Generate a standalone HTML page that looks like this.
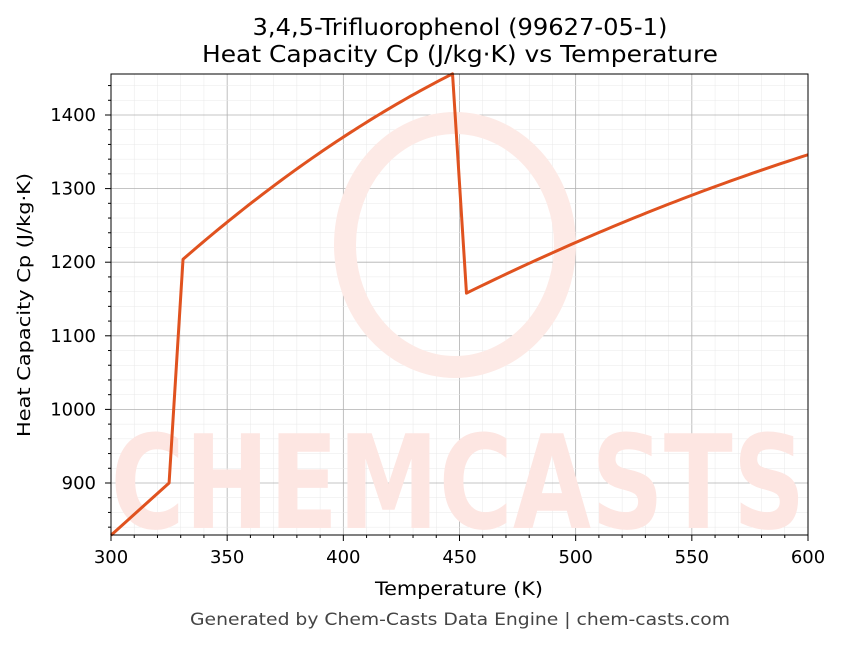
<!DOCTYPE html>
<html><head><meta charset="utf-8"><style>
body{margin:0;background:#fff;}
svg{font-family:"DejaVu Sans","Liberation Sans",sans-serif;}
</style></head><body>
<svg id="s" width="843" height="644" xmlns="http://www.w3.org/2000/svg">
<rect width="843" height="644" fill="#fff"/>
<g id="grid"></g>
<ellipse cx="455" cy="245" rx="110" ry="122" fill="none" stroke="#fdeae6" stroke-width="22"/>
<text x="458" y="528" text-anchor="middle" font-size="130" font-weight="bold" fill="#fde6e2" textLength="695" lengthAdjust="spacingAndGlyphs">CHEMCASTS</text>
<g id="data"></g>
<rect x="111" y="74" width="697" height="461" fill="none" stroke="#000" stroke-width="1"/>
<g id="ticks"></g>
<text x="460" y="35" text-anchor="middle" font-size="23" textLength="415" lengthAdjust="spacingAndGlyphs">3,4,5-Trifluorophenol (99627-05-1)</text>
<text x="460" y="62" text-anchor="middle" font-size="23" textLength="516" lengthAdjust="spacingAndGlyphs">Heat Capacity Cp (J/kg·K) vs Temperature</text>
<text x="459" y="595" text-anchor="middle" font-size="19" textLength="168" lengthAdjust="spacingAndGlyphs">Temperature (K)</text>
<text transform="translate(30,305) rotate(-90)" text-anchor="middle" font-size="18" textLength="264" lengthAdjust="spacingAndGlyphs">Heat Capacity Cp (J/kg·K)</text>
<text x="460" y="625" text-anchor="middle" font-size="17" fill="#444" textLength="540" lengthAdjust="spacingAndGlyphs">Generated by Chem-Casts Data Engine | chem-casts.com</text>
</svg>
<script>
var NS="http://www.w3.org/2000/svg";
function X(t){return 111+(t-300)*697/300;}
function Y(v){return 483-(v-900)*0.736;}
function el(p,n,a){var e=document.createElementNS(NS,n);for(var k in a)e.setAttribute(k,a[k]);document.getElementById(p).appendChild(e);return e;}
for(var t=300;t<=600;t+=10){var x=X(t),maj=t%50==0;
 el("grid","line",{x1:x,x2:x,y1:74,y2:535,stroke:maj?"#b0b0b0":"#e8e8e8","stroke-width":maj?0.8:0.5});
 el("ticks","line",{x1:x,x2:x,y1:535,y2:535+(maj?6:3),stroke:"#000"});
 if(maj){var tx=el("ticks","text",{x:x,y:563,"text-anchor":"middle","font-size":"18"});tx.textContent=t;}}
for(var v=840;v<=1450;v+=20){var y=Y(v),maj=v%100==0;
 el("grid","line",{x1:111,x2:808,y1:y,y2:y,stroke:maj?"#b0b0b0":"#e8e8e8","stroke-width":maj?0.8:0.5});
 el("ticks","line",{x1:111-(maj?6:3),x2:111,y1:y,y2:y,stroke:"#000"});
 if(maj){var ty=el("ticks","text",{x:96,y:y+6,"text-anchor":"end","font-size":"18"});ty.textContent=v;}}
function quad(p0,p1,p2){return function(t){return p0[1]*(t-p1[0])*(t-p2[0])/((p0[0]-p1[0])*(p0[0]-p2[0]))+p1[1]*(t-p0[0])*(t-p2[0])/((p1[0]-p0[0])*(p1[0]-p2[0]))+p2[1]*(t-p0[0])*(t-p1[0])/((p2[0]-p0[0])*(p2[0]-p1[0]));};}
var f1=quad([331,1204],[400,1370],[447,1456]);
var f2=quad([453,1158],[525,1260],[600,1346]);
var pts=[[300,829],[325,900]];
for(var t=331;t<=447;t+=2)pts.push([t,f1(t)]);
for(var t=453;t<=600;t+=3)pts.push([t,f2(t)]);
el("data","polyline",{points:pts.map(function(p){return X(p[0])+","+Y(p[1]);}).join(" "),fill:"none",stroke:"#e0521f","stroke-width":3,"stroke-linejoin":"round"});
</script>
</body></html>
